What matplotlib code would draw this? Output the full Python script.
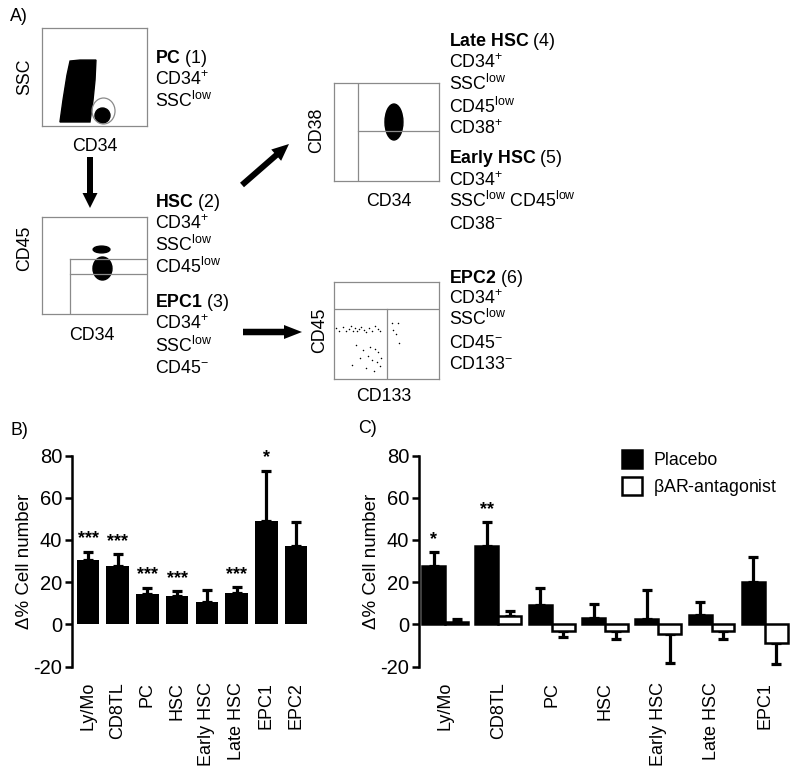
import matplotlib
matplotlib.use('Agg')
import matplotlib.pyplot as plt
from matplotlib.patches import Polygon, Ellipse, FancyArrow

plt.rcParams['font.family'] = ['Liberation Sans', 'DejaVu Sans']
plt.rcParams['mathtext.fontset'] = 'custom'
plt.rcParams['mathtext.rm'] = 'Liberation Sans'
plt.rcParams['mathtext.bf'] = 'Liberation Sans:bold'
plt.rcParams['mathtext.it'] = 'Liberation Sans:italic'
plt.rcParams['mathtext.default'] = 'regular'
plt.rcParams['axes.unicode_minus'] = False

W, H = 800, 778

# ---------------- data ----------------
b_categories = ['Ly/Mo', 'CD8TL', 'PC', 'HSC', 'Early HSC', 'Late HSC', 'EPC1', 'EPC2']
b_means = [30.5, 27.4, 14.5, 13.2, 10.5, 14.8, 48.8, 37.2]
b_sem = [4.0, 5.8, 2.8, 2.6, 5.6, 2.9, 24.0, 11.4]
b_stars = ['***', '***', '***', '***', '', '***', '*', '']

c_categories = ['Ly/Mo', 'CD8TL', 'PC', 'HSC', 'Early HSC', 'Late HSC', 'EPC1']
c_placebo = [27.6, 37.0, 9.3, 3.0, 2.4, 4.3, 20.0]
c_placebo_sem = [6.6, 11.3, 8.0, 6.4, 14.0, 6.2, 12.1]
c_antag = [0.9, 3.9, -3.1, -3.1, -4.7, -3.1, -9.0]
c_antag_sem = [1.8, 2.2, 3.0, 3.7, 13.6, 4.1, 9.6]
c_stars = ['*', '**', '', '', '', '', '']
series_labels = ['Placebo', r'$\beta$AR-antagonist']
y_ticks = [-20, 0, 20, 40, 60, 80]

# flow cytometry schematic shapes (axes-fraction units)
pc_blob_x = [0.171, 0.2, 0.238, 0.267, 0.362, 0.514, 0.505, 0.486, 0.457]
pc_blob_y = [0.041, 0.265, 0.52, 0.663, 0.673, 0.673, 0.469, 0.265, 0.041]
epc2_dots_x = [0.019, 0.048, 0.086, 0.114, 0.143, 0.162, 0.181, 0.2, 0.219, 0.238, 0.257,
               0.286, 0.305, 0.333, 0.362, 0.39, 0.419, 0.438,
               0.21, 0.276, 0.343, 0.39, 0.419, 0.248, 0.324, 0.362, 0.41, 0.448,
               0.305, 0.381, 0.438, 0.171,
               0.552, 0.61, 0.562, 0.59, 0.619]
epc2_dots_y = [0.53, 0.5, 0.54, 0.49, 0.52, 0.55, 0.5, 0.53, 0.49, 0.52, 0.54,
               0.51, 0.48, 0.53, 0.5, 0.55, 0.52, 0.49,
               0.35, 0.3, 0.33, 0.31, 0.28, 0.22, 0.24, 0.2, 0.18, 0.22,
               0.11, 0.08, 0.13, 0.14,
               0.577, 0.577, 0.505, 0.464, 0.371]

fig = plt.figure(figsize=(W / 100, H / 100), dpi=100)


def px_axes(left, top, right, bottom):
    return fig.add_axes([left / W, 1 - bottom / H, (right - left) / W, (bottom - top) / H])


# overlay for panel A annotation
ax0 = fig.add_axes([0, 0, 1, 1])
ax0.set_xlim(0, W)
ax0.set_ylim(H, 0)
ax0.axis('off')

FS_A = 12.8
GRAY = '#8a8a8a'


def flow_axes(left, top, right, bottom):
    a = px_axes(left, top, right, bottom)
    a.set_xlim(0, 1)
    a.set_ylim(0, 1)
    a.set_xticks([])
    a.set_yticks([])
    for s in a.spines.values():
        s.set_color(GRAY)
        s.set_linewidth(0.9)
    return a


# plot 1 (PC)
f1 = flow_axes(42, 28, 147, 126)
f1.add_patch(Polygon(list(zip(pc_blob_x, pc_blob_y)), closed=True, color='black'))
f1.add_patch(Ellipse((0.576, 0.107), 0.143, 0.153, color='black'))
f1.add_patch(Ellipse((0.586, 0.153), 0.219, 0.265, fill=False, ec=GRAY, lw=0.9))

# plot 2 (HSC / EPC1)
f2 = flow_axes(42, 217, 147, 314)
f2.plot([0.267, 0.267], [0, 0.567], color=GRAY, lw=0.9)
f2.plot([0.267, 1], [0.567, 0.567], color=GRAY, lw=0.9)
f2.plot([0.267, 1], [0.412, 0.412], color=GRAY, lw=0.9)
f2.add_patch(Ellipse((0.576, 0.469), 0.181, 0.237, color='black'))
f2.add_patch(Ellipse((0.567, 0.665), 0.16, 0.07, color='black'))

# plot 3 (Late / Early HSC)
f3 = flow_axes(334, 83, 439, 181)
f3.plot([0.229, 0.229], [0, 1], color=GRAY, lw=0.9)
f3.plot([0.229, 1], [0.51, 0.51], color=GRAY, lw=0.9)
f3.add_patch(Ellipse((0.571, 0.602), 0.171, 0.367, color='black'))

# plot 4 (EPC2)
f4 = flow_axes(334, 282, 439, 379)
f4.plot([0, 1], [0.722, 0.722], color=GRAY, lw=0.9)
f4.plot([0.505, 0.505], [0, 0.722], color=GRAY, lw=0.9)
f4.scatter(epc2_dots_x, epc2_dots_y, s=1.2, color='black', lw=0)

# arrows
ax0.add_patch(FancyArrow(90, 157, 0, 51, width=6, head_width=15, head_length=15,
                         length_includes_head=True, color='black', lw=0))
ax0.add_patch(FancyArrow(242, 185, 47, -41, width=6, head_width=15, head_length=17,
                         length_includes_head=True, color='black', lw=0))
ax0.add_patch(FancyArrow(243, 332, 59, 0, width=6.5, head_width=14, head_length=18,
                         length_includes_head=True, color='black', lw=0))

# panel A texts
ax0.text(10, 16, 'A)', fontsize=FS_A, ha='left', va='center')
ax0.text(10, 430, 'B)', fontsize=FS_A, ha='left', va='center')
ax0.text(358, 428, 'C)', fontsize=FS_A, ha='left', va='center')

ax0.text(25, 77, 'SSC', fontsize=FS_A, rotation=90, ha='center', va='center')
ax0.text(95, 150.7, 'CD34', fontsize=FS_A, ha='center', va='baseline')
ax0.text(25, 248, 'CD45', fontsize=FS_A, rotation=90, ha='center', va='center')
ax0.text(92, 340, 'CD34', fontsize=FS_A, ha='center', va='baseline')
ax0.text(317, 130, 'CD38', fontsize=FS_A, rotation=90, ha='center', va='center')
ax0.text(388.5, 206, 'CD34', fontsize=FS_A, ha='center', va='baseline')
ax0.text(320, 330, 'CD45', fontsize=FS_A, rotation=90, ha='center', va='center')
ax0.text(384, 400.7, 'CD133', fontsize=FS_A, ha='center', va='baseline')

for num, (gx, gy) in zip(['1', '2', '3', '4', '5', '6'],
                         [(130, 90), (132, 267), (130, 300), (427, 100), (427, 167), (345, 367)]):
    ax0.text(gx, gy, num, fontsize=FS_A, ha='center', va='center')

left_lines = [
    (63.3, r'$\mathbf{PC}$ (1)'), (85, r'CD34$^{+}$'), (106.7, r'SSC$^{low}$'),
    (207.3, r'$\mathbf{HSC}$ (2)'), (229.3, r'CD34$^{+}$'), (250.7, r'SSC$^{low}$'),
    (272.7, r'CD45$^{low}$'),
    (306.7, r'$\mathbf{EPC1}$ (3)'), (329.3, r'CD34$^{+}$'), (351.7, r'SSC$^{low}$'),
    (372.7, r'CD45$^{-}$'),
]
for yb, s in left_lines:
    ax0.text(155, yb, s, fontsize=FS_A, ha='left', va='baseline')

right_lines = [
    (46, r'$\mathbf{Late\ HSC}$ (4)'), (68.3, r'CD34$^{+}$'), (90, r'SSC$^{low}$'),
    (112.7, r'CD45$^{low}$'), (134.3, r'CD38$^{+}$'),
    (163.3, r'$\mathbf{Early\ HSC}$ (5)'), (186, r'CD34$^{+}$'),
    (207.3, r'SSC$^{low}$ CD45$^{low}$'), (229.3, r'CD38$^{-}$'),
    (282.7, r'$\mathbf{EPC2}$ (6)'), (304, r'CD34$^{+}$'), (325, r'SSC$^{low}$'),
    (348.3, r'CD45$^{-}$'), (369.3, r'CD133$^{-}$'),
]
for yb, s in right_lines:
    ax0.text(449, yb, s, fontsize=FS_A, ha='left', va='baseline')


# ---------------- bar panels ----------------
def one_sided(means, sems):
    lo = [s if m < 0 else 0 for m, s in zip(means, sems)]
    hi = [s if m >= 0 else 0 for m, s in zip(means, sems)]
    return [lo, hi]


def style_axis(ax, cats, xpos):
    ax.set_facecolor('none')
    for side in ['top', 'right', 'bottom']:
        ax.spines[side].set_visible(False)
    ax.spines['left'].set_linewidth(1.8)
    ax.set_ylim(-20, 80)
    ax.set_yticks(y_ticks)
    ax.tick_params(axis='y', length=5, width=1.8, labelsize=14.5, pad=2)
    ax.set_xticks(xpos)
    ax.set_xticklabels(cats, rotation=90, fontsize=13)
    ax.tick_params(axis='x', length=0, pad=11)
    ax.set_ylabel('Δ% Cell number', fontsize=13.5, labelpad=0)


EB = dict(fmt='none', ecolor='black', elinewidth=2.3, capsize=3.8, capthick=2.3, zorder=1)
STAR_GAP = 2.0

# Panel B
axb = px_axes(72, 455.5, 312, 666.5)
xb = list(range(len(b_categories)))
axb.bar(xb, b_means, width=0.76, color='black', zorder=2)
axb.errorbar(xb, b_means, yerr=one_sided(b_means, b_sem), **EB)
axb.set_xlim(-0.54, 7.54)
style_axis(axb, b_categories, xb)
for x, m, s, st in zip(xb, b_means, b_sem, b_stars):
    if st:
        axb.text(x, m + s + STAR_GAP, st, ha='center', va='bottom', fontsize=13,
                 fontweight='bold', clip_on=False)

# Panel C
axc = px_axes(419, 455.5, 792, 666.5)
xc = list(range(len(c_categories)))
bw = 0.43
xp = [x - bw / 2 for x in xc]
xa = [x + bw / 2 for x in xc]
bp = axc.bar(xp, c_placebo, width=bw, color='black', edgecolor='black', lw=1.8, zorder=2,
             label=series_labels[0])
ba = axc.bar(xa, c_antag, width=bw, color='white', edgecolor='black', lw=1.8, zorder=2,
             label=series_labels[1])
axc.errorbar(xp, c_placebo, yerr=one_sided(c_placebo, c_placebo_sem), **EB)
axc.errorbar(xa, c_antag, yerr=one_sided(c_antag, c_antag_sem), **EB)
axc.set_xlim(-0.49, 6.51)
style_axis(axc, c_categories, xc)
for x, m, s, st in zip(xp, c_placebo, c_placebo_sem, c_stars):
    if st:
        axc.text(x, m + s + STAR_GAP, st, ha='center', va='bottom', fontsize=13,
                 fontweight='bold', clip_on=False)

axc.legend(handles=[bp, ba], loc='upper left', bbox_to_anchor=(622 / W, 1 - 450 / H),
           bbox_transform=fig.transFigure, frameon=False, borderpad=0, borderaxespad=0,
           handlelength=1.15, handleheight=1.2, handletextpad=0.6, labelspacing=0.45,
           fontsize=12.8)

fig.savefig('out.png', dpi=100)
